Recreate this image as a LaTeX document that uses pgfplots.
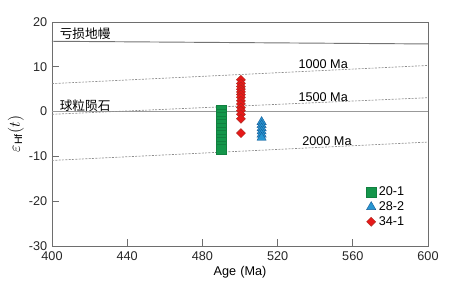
\documentclass[border=0pt]{standalone}
\usepackage{pgfplots}
\pgfplotsset{compat=1.18}
\usepackage{fontspec}
\setmainfont{Liberation Sans}
\newfontfamily\cjk{Noto Sans CJK SC}
\definecolor{sqgreen}{RGB}{20,150,75}
\definecolor{trblue}{RGB}{40,150,210}
\definecolor{trblueD}{RGB}{20,90,150}
\definecolor{dmred}{RGB}{230,25,25}
\definecolor{dmredD}{RGB}{170,40,30}
\definecolor{axgray}{RGB}{110,110,110}
\begin{document}
\begin{tikzpicture}
\begin{axis}[
  name=ax,
  scale only axis,
  width=282pt, height=168pt,
  xmin=400, xmax=600, ymin=-30, ymax=20,
  xtick={400,440,...,600}, ytick={-30,-20,...,20},
  tick pos=left, tick align=inside,
  major tick length=5pt,
  axis line style={axgray, line width=0.6pt},
  tick style={axgray, line width=0.6pt},
  /pgf/number format/assume math mode=true,
  ticklabel style={font=\fontsize{9.5}{11}\selectfont, text=black!85},
  xticklabel style={yshift=-1pt},
  xlabel={Age\,\,(Ma)},
  ylabel={$\varepsilon_{\mathrm{Hf}}(t)$},
  label style={font=\fontsize{9.5}{11}\selectfont},
  ylabel style={font=\fontsize{12}{13}\selectfont, yshift=-3pt},
  xlabel style={yshift=3pt},
  legend style={draw=none, fill=none, at={(0.955,0.29)}, anchor=north east,
    font=\fontsize{9.5}{11}\selectfont, row sep=-1pt},
  legend cell align=left,
  clip=false,
]
% reference lines
\addplot[forget plot, color=black!55, line width=0.7pt] coordinates {(400,15.7) (600,15.1)};
\addplot[forget plot, color=black!40, line width=1.1pt] coordinates {(400,0) (600,0)};
\addplot[forget plot, color=black!45, line width=0.5pt, dash pattern=on 1.5pt off 1pt] coordinates {(400,6.25) (600,10.3)};
\addplot[forget plot, color=black!45, line width=0.5pt, dash pattern=on 1.5pt off 1pt] coordinates {(400,-0.6) (600,3.1)};
\addplot[forget plot, color=black!45, line width=0.5pt, dash pattern=on 1.5pt off 1pt] coordinates {(400,-10.9) (600,-6.8)};
% data
\addplot[only marks, mark=square*, mark size=3.7pt, color=sqgreen, mark options={draw=sqgreen!85!black, line width=0.3pt}]
  coordinates {(490,0.3) (490,-0.5) (490,-1.3) (490,-2.1) (490,-2.9) (490,-3.7) (490,-4.5) (490,-5.3) (490,-6.1) (490,-6.9) (490,-7.7) (490,-8.4)};
\addlegendentry{20-1}
\addplot[only marks, mark=triangle*, mark size=4pt, color=trblue, mark options={draw=trblueD, line width=0.3pt}]
  coordinates {(511.5,-2.3) (511.5,-3.0) (511.5,-3.7) (511.5,-4.4) (511.5,-5.1) (511.5,-5.8)};
\addlegendentry{28-2}
\addplot[only marks, mark=square*, mark size=2.4pt, color=dmred, mark options={rotate=45, draw=dmredD, line width=0.3pt}]
  coordinates {(500.5,7.1) (500.5,6.3) (500.5,5.6) (500.5,5.0) (500.5,4.4) (500.5,3.8) (500.5,3.2) (500.5,2.4) (500.5,1.7) (500.5,0.9) (500.5,0.2) (500.5,-0.6) (500.5,-1.6) (500.5,-4.8)};
\addlegendentry{34-1}
% labels
\node[anchor=west, font=\cjk\fontsize{9.5}{11}\selectfont, inner sep=0pt] at (axis cs:404,17.3) {亏损地幔};
\node[anchor=west, font=\cjk\fontsize{9.5}{11}\selectfont, inner sep=0pt] at (axis cs:404,1.3) {球粒陨石};
\node[anchor=west, font=\fontsize{9.5}{11}\selectfont, inner sep=0pt] at (axis cs:531,10.6) {1000 Ma};
\node[anchor=west, font=\fontsize{9.5}{11}\selectfont, inner sep=0pt] at (axis cs:531,3.2) {1500 Ma};
\node[anchor=west, font=\fontsize{9.5}{11}\selectfont, inner sep=0pt] at (axis cs:533,-6.6) {2000 Ma};
\end{axis}
\pgfresetboundingbox
\path ([xshift=-39pt,yshift=-36pt]ax.south west) rectangle ([xshift=19.5pt,yshift=16.5pt]ax.north east);
\end{tikzpicture}
\end{document}
